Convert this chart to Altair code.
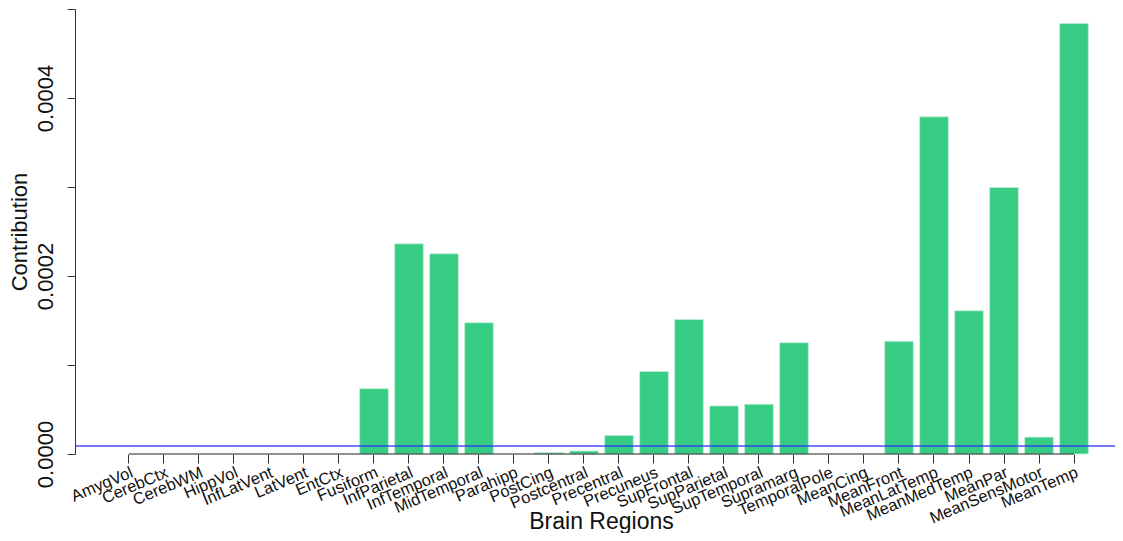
import altair as alt
import pandas as pd

regions = ["AmygVol", "CerebCtx", "CerebWM", "HippVol", "InfLatVent", "LatVent", "EntCtx",
           "Fusiform", "InfParietal", "InfTemporal", "MidTemporal", "Parahipp", "PostCing",
           "Postcentral", "Precentral", "Precuneus", "SupFrontal", "SupParietal", "SupTemporal",
           "Supramarg", "TemporalPole", "MeanCing", "MeanFront", "MeanLatTemp", "MeanMedTemp",
           "MeanPar", "MeanSensMotor", "MeanTemp"]
contribution = [0, 0, 0, 0, 0, 0, 0,
                0.0000734, 0.0002361, 0.0002249, 0.0001475, 0, 0.0000015,
                0.0000034, 0.0000209, 0.0000927, 0.0001512, 0.0000540, 0.0000559,
                0.0001251, 0, 0, 0.0001266, 0.0003788, 0.0001609,
                0.0002994, 0.0000190, 0.0004838]
threshold = 0.0000089
y_ticks = [0, 0.0001, 0.0002, 0.0003, 0.0004, 0.0005]

df = pd.DataFrame({"region": regions, "contribution": contribution})

W, H = 1040, 445
FONT = "Liberation Sans"

xscale = alt.Scale(domain=regions, paddingInner=0.18, paddingOuter=0.947, align=0.598)
yscale = alt.Scale(domain=[0, 0.0005], nice=False, zero=True)

x_axis = alt.Axis(title="Brain Regions", labelAngle=-23, labelAlign="right",
                  labelBaseline="top", labelFontSize=16.5, labelFont=FONT,
                  labelColor="#111111", labelPadding=1, tickSize=9,
                  tickColor="#333333", domain=False, grid=False,
                  titleFontSize=23, titleFont=FONT, titleFontWeight="normal",
                  titleColor="#111111", titleX=526, titleY=56, titleBaseline="top",
                  labelOverlap=False)
y_axis = alt.Axis(title="Contribution", values=y_ticks,
                  labelExpr="(round(datum.value*10000) % 2 == 0 && datum.value < 0.00045) ? format(datum.value, '.4f') : ''",
                  labelAngle=-90, labelAlign="center", labelBaseline="bottom",
                  labelFontSize=22, labelFont=FONT, labelColor="#111111",
                  labelPadding=10, tickSize=8, tickColor="#333333",
                  domainColor="#333333", grid=False, labelOverlap=False,
                  titleFontSize=22, titleFont=FONT, titleFontWeight="normal",
                  titleColor="#111111", titlePadding=3)

bars = alt.Chart(df).transform_filter("datum.contribution > 0").mark_bar(
    color="#36CC83", stroke="#c4efd9", strokeWidth=0.8).encode(
    x=alt.X("region:N", scale=xscale, sort=regions, axis=x_axis, title="Brain Regions"),
    y=alt.Y("contribution:Q", scale=yscale, axis=y_axis, title="Contribution"),
)

hline = alt.Chart(pd.DataFrame({"contribution": [threshold]})).mark_rule(
    color="#3030ff", opacity=0.65, strokeWidth=2).encode(
    y=alt.Y("contribution:Q", scale=yscale, axis=y_axis, title="Contribution"),
    x=alt.value(0), x2=alt.value(W),
)

xline = alt.Chart(pd.DataFrame({"region": [regions[0]], "b": [regions[-1]],
                                "contribution": [0]})).mark_rule(
    color="#222222", strokeWidth=1).encode(
    x=alt.X("region:N", scale=xscale, sort=regions, axis=x_axis, title="Brain Regions"),
    x2="b:N",
    y=alt.Y("contribution:Q", scale=yscale, axis=y_axis, title="Contribution"),
)

chart = alt.layer(bars, hline, xline).properties(
    width=W, height=H,
    autosize=alt.AutoSizeParams(type="none"),
    padding={"left": 67, "top": 1, "right": 0, "bottom": 79},
    background="white",
).configure_view(stroke=None)

chart.save("out.html", embed_options={"renderer": "svg", "actions": False})
